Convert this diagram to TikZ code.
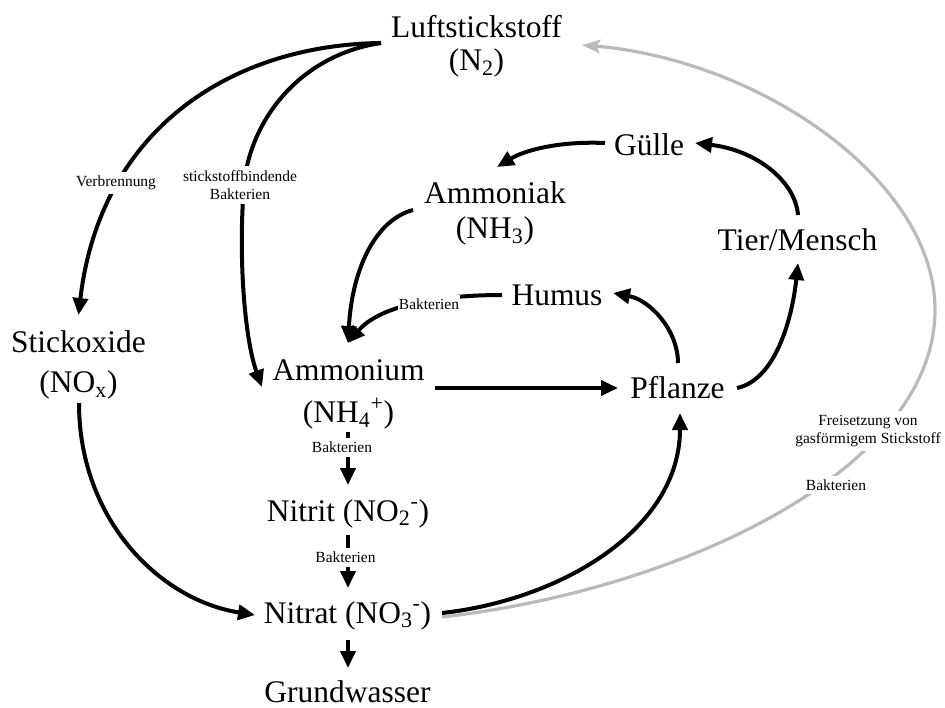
\documentclass[tikz,border=0pt]{standalone}
\usepackage{fontspec}
\setmainfont{Liberation Serif}
\usetikzlibrary{arrows.meta}
\newcommand{\twoline}[3]{\begin{tabular}[t]{@{}c@{}}#1\\[#3]#2\end{tabular}}
\begin{document}
\begin{tikzpicture}[x=0.75pt,y=-0.75pt,
  sub/.style={anchor=base, inner sep=0pt, font=\fontsize{23.6pt}{23.6pt}\selectfont},
  lbl/.style={fill=white, inner xsep=1pt, inner ysep=3pt, align=center, font=\fontsize{11.6pt}{14pt}\selectfont},
  arr/.style={line width=3pt, -{Triangle[length=12.75pt,width=11.25pt]}},
  garr/.style={line width=2.4pt, black!27, -{Stealth[length=13.5pt,width=10pt,inset=2.5pt]}}]
\useasboundingbox (0,0) rectangle (945,707);
% nodes
\node[sub] (luft) at (476.5,37) {\twoline{Luftstickstoff}{(N\textsubscript{2})}{1.5pt}};
\node[sub] (guelle) at (649,155) {Gülle};
\node[sub] (ammoniak) at (495,203) {\twoline{Ammoniak}{(NH\textsubscript{3})}{3pt}};
\node[sub] (tier) at (797.5,250) {Tier/Mensch};
\node[sub] (humus) at (557,305) {Humus};
\node[sub] (stick) at (78.5,352) {\twoline{Stickoxide}{(NO\textsubscript{x})}{7pt}};
\node[sub] (ammon) at (348.5,380) {\twoline{Ammonium}{(NH\textsubscript{4}\textsuperscript{+})}{6.5pt}};
\node[sub] (pflanze) at (677.5,398) {Pflanze};
\node[sub] (nitrit) at (348,521) {Nitrit (NO\textsubscript{2}\textsuperscript{-})};
\node[sub] (nitrat) at (347.5,623) {Nitrat (NO\textsubscript{3}\textsuperscript{-})};
\node[sub] (grund) at (347.5,702) {Grundwasser};
% connectors
\draw[garr] ([shift={(94.5,-6)}]nitrat.base) .. controls (680,590) and (935,470) .. (935,310) .. controls (935,180) and (760,60) .. ([shift={(105.5,8)}]luft.base);
\draw[arr] ([shift={(-95.5,6)}]luft.base) .. controls (230,45) and (100,130) .. ([shift={(0,-37)}]stick.base);
\draw[arr] ([shift={(-95.5,6)}]luft.base) .. controls (300,55) and (250,120) .. (244,185) .. controls (238,260) and (245,340) .. ([shift={(-86.5,7)}]ammon.base);
\draw[arr] ([shift={(-44,-12)}]guelle.base) .. controls (560,141) and (525,150) .. ([shift={(2,-36)}]ammoniak.base);
\draw[arr] ([shift={(0.5,-35)}]tier.base) .. controls (795,180) and (755,150) .. ([shift={(46,-12)}]guelle.base);
\draw[arr] ([shift={(-82,7)}]ammoniak.base) .. controls (375,220) and (352,270) .. ([shift={(-0.5,-37)}]ammon.base);
\draw[arr] ([shift={(-55,-10)}]humus.base) .. controls (440,295) and (380,305) .. ([shift={(-0.5,-37)}]ammon.base);
\draw[arr] ([shift={(86.5,8)}]ammon.base) -- ([shift={(-59.5,-10)}]pflanze.base);
\draw[arr] ([shift={(0.5,-35)}]pflanze.base) .. controls (678,330) and (650,300) .. ([shift={(56,-12)}]humus.base);
\draw[arr] ([shift={(59.5,-10)}]pflanze.base) .. controls (775,380) and (792,320) .. ([shift={(0.5,13)}]tier.base);
\draw[arr] ([shift={(-0.5,52)}]ammon.base) -- ([shift={(0,-36)}]nitrit.base);
\draw[arr] ([shift={(0,14)}]nitrit.base) -- ([shift={(0.5,-35)}]nitrat.base);
\draw[arr] ([shift={(0.5,51)}]stick.base) .. controls (79,520) and (160,600) .. ([shift={(-92.5,-8)}]nitrat.base);
\draw[arr] ([shift={(94.5,-10)}]nitrat.base) .. controls (560,600) and (680,530) .. ([shift={(2.5,15)}]pflanze.base);
\draw[arr] ([shift={(0.5,17)}]nitrat.base) -- ([shift={(0.5,-34)}]grund.base);
% labels
\node[lbl] (lverb) at (116,183) {Verbrennung};
\node[lbl] (lstick) at (240,185) {stickstoffbindende\\Bakterien};
\node[lbl] (lbak1) at (429,304) {Bakterien};
\node[lbl] (lbak2) at (342,447.5) {Bakterien};
\node[lbl] (lbak3) at (345.5,557.5) {Bakterien};
\node[lbl] (lfrei) at (868,431) {Freisetzung von\\gasförmigem Stickstoff};
\node[lbl] (lbak4) at (836,485) {Bakterien};
\end{tikzpicture}
\end{document}
